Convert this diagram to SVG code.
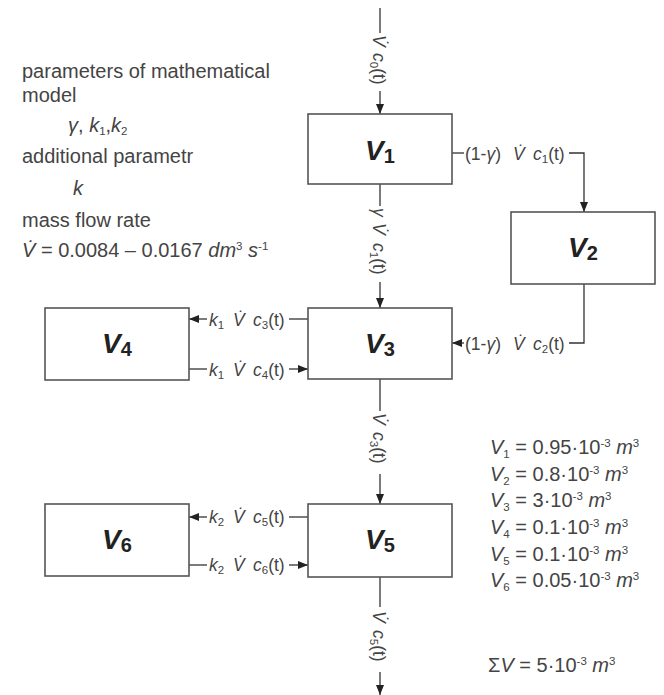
<svg xmlns="http://www.w3.org/2000/svg" width="664" height="695" viewBox="0 0 664 695">
<style>
.box{fill:#fff;stroke:#555;stroke-width:1.6}
.conn{fill:none;stroke:#333;stroke-width:1.3}
.blabel{font-family:"Liberation Sans",Arial,sans-serif;font-style:italic;font-weight:bold;font-size:28px;fill:#222}
.bsub{font-style:normal;font-size:20px}
.lab{font-family:"Liberation Sans",Arial,sans-serif;font-size:17.5px;fill:#444}
.txt{font-family:"Liberation Sans",Arial,sans-serif;font-size:20px;fill:#444}
.i{font-style:italic}
.sub{font-size:11.5px}
.sup{font-size:11.5px}
</style>
<defs>
<marker id="ah" viewBox="0 0 10 8" refX="10" refY="4" markerWidth="10" markerHeight="8" markerUnits="userSpaceOnUse" orient="auto">
<path d="M0,0 L10,4 L0,8 z" fill="#222"/>
</marker>
</defs>

<g id="connectors">
<line class="conn" x1="380" y1="8" x2="380" y2="33"/>
<path class="conn" d="M380,91 L380,114" marker-end="url(#ah)"/>
<line class="conn" x1="452" y1="153" x2="464" y2="153"/>
<path class="conn" d="M569,153 L584,153 L584,212" marker-end="url(#ah)"/>
<line class="conn" x1="380" y1="184" x2="380" y2="206"/>
<path class="conn" d="M380,282 L380,308" marker-end="url(#ah)"/>
<path class="conn" d="M584,284 L584,343 L569,343"/>
<path class="conn" d="M464,343 L452,343" marker-end="url(#ah)"/>
<line class="conn" x1="308" y1="319" x2="289" y2="319"/>
<path class="conn" d="M207,319 L189,319" marker-end="url(#ah)"/>
<line class="conn" x1="189" y1="369" x2="207" y2="369"/>
<path class="conn" d="M289,369 L308,369" marker-end="url(#ah)"/>
<line class="conn" x1="380" y1="379" x2="380" y2="411"/>
<path class="conn" d="M380,474 L380,504" marker-end="url(#ah)"/>
<line class="conn" x1="308" y1="517" x2="289" y2="517"/>
<path class="conn" d="M207,517 L189,517" marker-end="url(#ah)"/>
<line class="conn" x1="189" y1="565" x2="207" y2="565"/>
<path class="conn" d="M289,565 L308,565" marker-end="url(#ah)"/>
<line class="conn" x1="380" y1="577" x2="380" y2="607"/>
<path class="conn" d="M380,672 L380,695" marker-end="url(#ah)"/>

<text class="lab" transform="translate(373,0) rotate(90)"><tspan x="35" class="i">V̇</tspan><tspan x="53" class="i">c</tspan><tspan class="sub" dy="3">0</tspan><tspan dy="-3">(t)</tspan></text>
<text class="lab" y="160"><tspan x="465">(1-</tspan><tspan class="i">γ</tspan><tspan>)</tspan><tspan x="513" class="i">V̇</tspan><tspan x="533" class="i">c</tspan><tspan class="sub" dy="3">1</tspan><tspan dy="-3">(t)</tspan></text>
<text class="lab" transform="translate(373,0) rotate(90)"><tspan x="208" class="i">γ</tspan><tspan x="223" class="i">V̇</tspan><tspan x="243" class="i">c</tspan><tspan class="sub" dy="3">1</tspan><tspan dy="-3">(t)</tspan></text>
<text class="lab" y="350"><tspan x="465">(1-</tspan><tspan class="i">γ</tspan><tspan>)</tspan><tspan x="513" class="i">V̇</tspan><tspan x="533" class="i">c</tspan><tspan class="sub" dy="3">2</tspan><tspan dy="-3">(t)</tspan></text>
<text class="lab" y="326"><tspan x="209" class="i">k</tspan><tspan class="sub" dy="3">1</tspan><tspan x="233" dy="-3" class="i">V̇</tspan><tspan x="253" class="i">c</tspan><tspan class="sub" dy="3">3</tspan><tspan dy="-3">(t)</tspan></text>
<text class="lab" y="376"><tspan x="209" class="i">k</tspan><tspan class="sub" dy="3">1</tspan><tspan x="233" dy="-3" class="i">V̇</tspan><tspan x="253" class="i">c</tspan><tspan class="sub" dy="3">4</tspan><tspan dy="-3">(t)</tspan></text>
<text class="lab" transform="translate(373,0) rotate(90)"><tspan x="413" class="i">V̇</tspan><tspan x="432" class="i">c</tspan><tspan class="sub" dy="3">3</tspan><tspan dy="-3">(t)</tspan></text>
<text class="lab" y="523"><tspan x="209" class="i">k</tspan><tspan class="sub" dy="3">2</tspan><tspan x="233" dy="-3" class="i">V̇</tspan><tspan x="253" class="i">c</tspan><tspan class="sub" dy="3">5</tspan><tspan dy="-3">(t)</tspan></text>
<text class="lab" y="571"><tspan x="209" class="i">k</tspan><tspan class="sub" dy="3">2</tspan><tspan x="233" dy="-3" class="i">V̇</tspan><tspan x="253" class="i">c</tspan><tspan class="sub" dy="3">6</tspan><tspan dy="-3">(t)</tspan></text>
<text class="lab" transform="translate(373,0) rotate(90)"><tspan x="611" class="i">V̇</tspan><tspan x="630" class="i">c</tspan><tspan class="sub" dy="3">5</tspan><tspan dy="-3">(t)</tspan></text>
</g>

<g id="V1"><rect class="box" x="308" y="114" width="144" height="70"/><text class="blabel" x="380" y="160" text-anchor="middle">V<tspan class="bsub" dy="3">1</tspan></text></g>
<g id="V2"><rect class="box" x="511" y="212" width="144" height="72"/><text class="blabel" x="583" y="257" text-anchor="middle">V<tspan class="bsub" dy="3">2</tspan></text></g>
<g id="V3"><rect class="box" x="308" y="308" width="144" height="71"/><text class="blabel" x="380" y="353" text-anchor="middle">V<tspan class="bsub" dy="3">3</tspan></text></g>
<g id="V4"><rect class="box" x="45" y="308" width="144" height="72"/><text class="blabel" x="117" y="353" text-anchor="middle">V<tspan class="bsub" dy="3">4</tspan></text></g>
<g id="V5"><rect class="box" x="308" y="504" width="144" height="73"/><text class="blabel" x="380" y="549" text-anchor="middle">V<tspan class="bsub" dy="3">5</tspan></text></g>
<g id="V6"><rect class="box" x="45" y="504" width="144" height="72"/><text class="blabel" x="117" y="549" text-anchor="middle">V<tspan class="bsub" dy="3">6</tspan></text></g>

<g id="parameters">
<text class="txt" x="22" y="78">parameters of mathematical</text>
<text class="txt" x="22" y="102">model</text>
<text class="txt" x="68" y="132" font-size="17"><tspan class="i">γ</tspan>, <tspan class="i">k</tspan><tspan class="sub" dy="3">1</tspan><tspan dy="-3">,</tspan><tspan class="i">k</tspan><tspan class="sub" dy="3">2</tspan></text>
<text class="txt" x="22" y="163">additional parametr</text>
<text class="txt i" x="73" y="195">k</text>
<text class="txt" x="22" y="227">mass flow rate</text>
<text class="txt" x="22" y="257"><tspan class="i">V̇</tspan> = 0.0084 – 0.0167 <tspan class="i">dm</tspan><tspan class="sup" dy="-7">3</tspan><tspan dy="7"> </tspan><tspan class="i">s</tspan><tspan class="sup" dy="-7">-1</tspan></text>
</g>

<g id="volumes">
<text class="txt" x="490" y="454"><tspan class="i">V</tspan><tspan class="sub" dy="4">1</tspan><tspan dy="-4"> = 0.95·10</tspan><tspan class="sup" dy="-7">-3</tspan><tspan dy="7"> </tspan><tspan class="i">m</tspan><tspan class="sup" dy="-7">3</tspan></text>
<text class="txt" x="490" y="481"><tspan class="i">V</tspan><tspan class="sub" dy="4">2</tspan><tspan dy="-4"> = 0.8·10</tspan><tspan class="sup" dy="-7">-3</tspan><tspan dy="7"> </tspan><tspan class="i">m</tspan><tspan class="sup" dy="-7">3</tspan></text>
<text class="txt" x="490" y="507"><tspan class="i">V</tspan><tspan class="sub" dy="4">3</tspan><tspan dy="-4"> = 3·10</tspan><tspan class="sup" dy="-7">-3</tspan><tspan dy="7"> </tspan><tspan class="i">m</tspan><tspan class="sup" dy="-7">3</tspan></text>
<text class="txt" x="490" y="534"><tspan class="i">V</tspan><tspan class="sub" dy="4">4</tspan><tspan dy="-4"> = 0.1·10</tspan><tspan class="sup" dy="-7">-3</tspan><tspan dy="7"> </tspan><tspan class="i">m</tspan><tspan class="sup" dy="-7">3</tspan></text>
<text class="txt" x="490" y="561"><tspan class="i">V</tspan><tspan class="sub" dy="4">5</tspan><tspan dy="-4"> = 0.1·10</tspan><tspan class="sup" dy="-7">-3</tspan><tspan dy="7"> </tspan><tspan class="i">m</tspan><tspan class="sup" dy="-7">3</tspan></text>
<text class="txt" x="490" y="587"><tspan class="i">V</tspan><tspan class="sub" dy="4">6</tspan><tspan dy="-4"> = 0.05·10</tspan><tspan class="sup" dy="-7">-3</tspan><tspan dy="7"> </tspan><tspan class="i">m</tspan><tspan class="sup" dy="-7">3</tspan></text>
<text class="txt" x="488" y="672">Σ<tspan class="i">V</tspan> = 5·10<tspan class="sup" dy="-7">-3</tspan><tspan dy="7"> </tspan><tspan class="i">m</tspan><tspan class="sup" dy="-7">3</tspan></text>
</g>
</svg>
